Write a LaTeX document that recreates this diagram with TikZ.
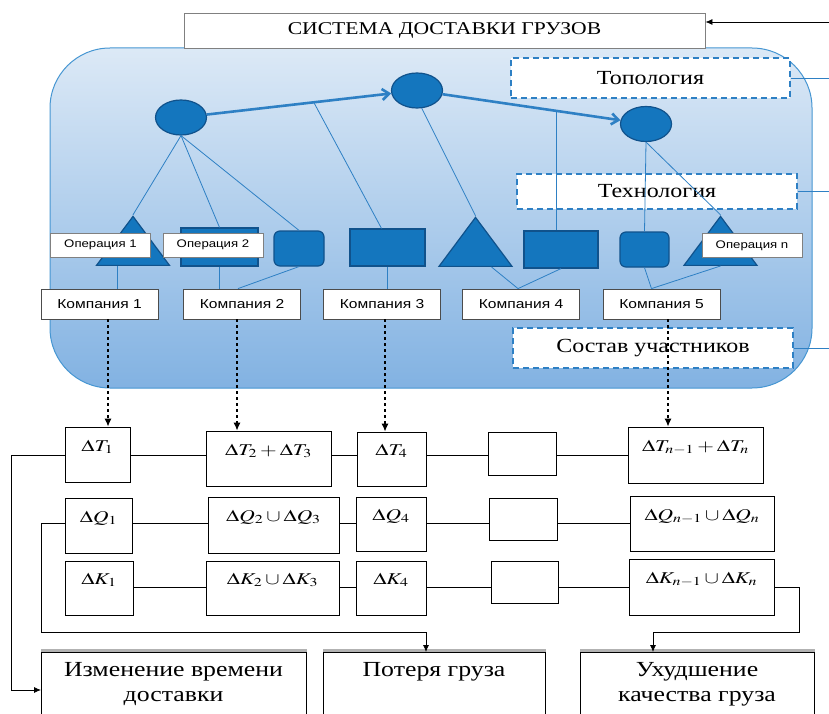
\documentclass[tikz,border=0pt]{standalone}
\usepackage{mathptmx}
\usepackage[no-math]{fontspec}
\setmainfont{Liberation Serif}[FakeStretch=1.2]
\newfontfamily\opfont{Liberation Sans}[FakeStretch=1.2]
\usepackage{graphicx}
\usetikzlibrary{shapes.geometric,arrows.meta}
\definecolor{figblue}{RGB}{20,118,190}
\definecolor{figedge}{RGB}{16,82,140}
\definecolor{lineblue}{RGB}{46,128,196}
\definecolor{paneltop}{RGB}{220,233,246}
\definecolor{panelbot}{RGB}{130,178,226}
\definecolor{paneledge}{RGB}{70,150,210}
\newcommand{\wmath}[1]{\scalebox{1.3}[1]{$#1$}}
\begin{document}
\begin{tikzpicture}[x=1pt, y=-1pt,
  panel/.style={draw=paneledge, line width=1, top color=paneltop, bottom color=panelbot, rounded corners=60, minimum width=762, minimum height=340, inner sep=0},
  titlebox/.style={draw=gray, fill=white, line width=0.8, minimum width=521, minimum height=35, inner sep=0, font=\fontsize{18}{20}\selectfont},
  tagbox/.style={draw=lineblue, dash pattern=on 6pt off 4pt, line width=2, fill=white, inner sep=0, font=\fontsize{20}{22}\selectfont},
  fig/.style={fill=figblue, draw=figedge, line width=1.2, inner sep=0},
  circ/.style={fig, ellipse, minimum width=51, minimum height=35},
  rect/.style={fig, rectangle},
  rsq/.style={fig, rectangle, rounded corners=6, minimum width=50, minimum height=35},
  tri/.style={fig, isosceles triangle, isosceles triangle stretches, shape border rotate=90, minimum width=73, minimum height=49, anchor=south},
  bline/.style={lineblue, line width=0.8},
  flow/.style={lineblue, line width=2.6, -{Straight Barb[length=7pt,width=11pt]}},
  op/.style={draw=gray, fill=white, line width=0.8, minimum width=100, minimum height=24, inner sep=0, font=\opfont\fontsize{11}{12}\selectfont},
  comp/.style={draw=black!70, fill=white, line width=0.8, minimum width=117, minimum height=30, inner sep=0, font=\opfont\fontsize{13}{14}\selectfont},
  sarrow/.style={dashed, line width=1.2, -{Latex[length=8pt,width=7pt]}},
  dm/.style={draw, fill=white, line width=0.8, inner sep=0, text height=10pt, text depth=17pt, font=\fontsize{16.5}{18}\selectfont},
  gline/.style={line width=0.8},
  karrow/.style={line width=0.8, -{Latex[length=7pt,width=6pt]}},
  outbox/.style={draw, line width=0.8, minimum height=90, inner sep=0, anchor=north west},
  shadowline/.style={gray!60, line width=3},
  outtext/.style={align=center, font=\fontsize{21.5}{25}\selectfont}]
\clip (0,0) rectangle (829,714);
\node[panel] (P) at (431,218) {};
\node[titlebox] (S) at (444.5,30.5) {СИСТЕМА ДОСТАВКИ ГРУЗОВ};
\coordinate (E_0) at (829,22);
\draw[karrow] (E_0) -- (E_0 -| S.east);
\node[tagbox, minimum width=279, minimum height=40] (G_1) at (650.5,78) {Топология};
\node[tagbox, minimum width=280, minimum height=35] (G_2) at (657,191.5) {Технология};
\node[tagbox, minimum width=280, minimum height=40] (G_3) at (653,348) {Состав участников};
\draw[bline] (G_1.east) -- (G_1.east -| E_0);
\draw[bline] (G_2.east) -- (G_2.east -| E_0);
\draw[bline] (G_3.east) -- (G_3.east -| E_0);
\node[circ] (C_1) at (181,117.5) {};
\node[circ] (C_2) at (417,90.5) {};
\node[circ] (C_3) at (646,124) {};
\draw[flow] (C_1) -- (C_2) coordinate[pos=0.58] (A_1);
\draw[flow] (C_2) -- (C_3) coordinate[pos=0.64] (A_2);
\node[tri] (T_1) at (133,266) {};
\node[rect, minimum width=77, minimum height=38] (R_2) at (219.5,247) {};
\node[rsq] (Q_3) at (299,248.5) {};
\node[rect, minimum width=75, minimum height=37] (R_4) at (387.5,247.5) {};
\node[tri] (T_5) at (475.5,267) {};
\node[rect, minimum width=74, minimum height=37] (R_6) at (561,249.5) {};
\node[rsq, minimum width=49] (Q_7) at (644.5,249.5) {};
\node[tri] (T_8) at (720.5,266) {};
\draw[bline] (C_1.south) -- (T_1.apex);
\draw[bline] (C_1.south) -- (R_2.north);
\draw[bline] (C_1.south) -- (Q_3.north);
\draw[bline] (A_1) -- ([xshift=-6]R_4.north);
\draw[bline] (C_2.-75) -- (T_5.apex);
\draw[bline] (A_2) -- (A_2 |- R_6.north);
\draw[bline] (C_3.south) -- (Q_7.north);
\draw[bline] (C_3.south) -- (T_8.apex);
\node[op] (O_1) at (100.5,245) {Операция 1};
\node[op] (O_2) at (213,245) {Операция 2};
\node[op] (O_n) at (752,245.5) {Операция n};
\node[comp] (K_1) at (99.5,304) {Компания 1};
\node[comp] (K_2) at (242,304) {Компания 2};
\node[comp] (K_3) at (382,304) {Компания 3};
\node[comp] (K_4) at (521,304) {Компания 4};
\node[comp] (K_5) at (661.5,304) {Компания 5};
\draw[bline] ([xshift=17.5]K_1.north) -- ++(0,-23);
\draw[bline] (R_2.south) -- (R_2.south |- K_2.north);
\draw[bline] (Q_3.south) -- ([xshift=-4]K_2.north);
\draw[bline] (R_4.south) -- (R_4.south |- K_3.north);
\draw[bline] ([xshift=16]T_5.south) -- ([xshift=-3]K_4.north);
\draw[bline] (R_6.south) -- ([xshift=-3]K_4.north);
\draw[bline] (Q_7.south) -- ([xshift=-10]K_5.north);
\draw[bline] (T_8.south) -- ([xshift=-10]K_5.north);
\node[dm, minimum width=65, minimum height=55] (DT_1) at (97.5,454.5) {\wmath{\Delta T_1}};
\node[dm, minimum width=125, minimum height=55] (DT_2) at (268.5,458.5) {\wmath{\Delta T_2+\Delta T_3}};
\node[dm, minimum width=69, minimum height=54] (DT_3) at (391.5,459) {\wmath{\Delta T_4}};
\node[dm, minimum width=68, minimum height=43] (DT_4) at (522,453.5) {};
\node[dm, minimum width=135, minimum height=56] (DT_5) at (695.5,455) {\wmath{\Delta T_{n-1}+\Delta T_n}};
\node[dm, minimum width=67, minimum height=55] (DQ_1) at (98.5,525.5) {\wmath{\Delta Q_1}};
\node[dm, minimum width=131, minimum height=56] (DQ_2) at (273.5,525) {\wmath{\Delta Q_2\cup\Delta Q_3}};
\node[dm, minimum width=70, minimum height=54] (DQ_3) at (391,524) {\wmath{\Delta Q_4}};
\node[dm, minimum width=68, minimum height=42] (DQ_4) at (523,519) {};
\node[dm, minimum width=144, minimum height=55] (DQ_5) at (702,523.5) {\wmath{\Delta Q_{n-1}\cup\Delta Q_n}};
\node[dm, minimum width=68, minimum height=54] (DK_1) at (99,588) {\wmath{\Delta K_1}};
\node[dm, minimum width=133, minimum height=54] (DK_2) at (272.5,588) {\wmath{\Delta K_2\cup\Delta K_3}};
\node[dm, minimum width=70, minimum height=54] (DK_3) at (391,588) {\wmath{\Delta K_4}};
\node[dm, minimum width=67, minimum height=42] (DK_4) at (524.5,582) {};
\node[dm, minimum width=145, minimum height=56] (DK_5) at (701.5,587) {\wmath{\Delta K_{n-1}\cup\Delta K_n}};
\path ([xshift=8.5]K_1.south) coordinate (D_1);
\path ([xshift=-5]K_2.south) coordinate (D_2);
\path ([xshift=3]K_3.south) coordinate (D_3);
\path ([xshift=6.5]K_5.south) coordinate (D_5);
\draw[sarrow] (D_1) -- (D_1 |- DT_1.north);
\draw[sarrow] (D_2) -- (D_2 |- DT_2.north);
\draw[sarrow] (D_3) -- (D_3 |- DT_3.north);
\draw[sarrow] (D_5) -- (D_5 |- DT_5.north);
\coordinate (RT) at (0,455);
\coordinate (RQ) at (0,523);
\coordinate (RK) at (0,587);
\draw[gline] (DT_1.east |- RT) -- (DT_2.west |- RT);
\draw[gline] (DT_2.east |- RT) -- (DT_3.west |- RT);
\draw[gline] (DT_3.east |- RT) -- (DT_4.west |- RT);
\draw[gline] (DT_4.east |- RT) -- (DT_5.west |- RT);
\draw[gline] (DQ_1.east |- RQ) -- (DQ_2.west |- RQ);
\draw[gline] (DQ_2.east |- RQ) -- (DQ_3.west |- RQ);
\draw[gline] (DQ_3.east |- RQ) -- (DQ_4.west |- RQ);
\draw[gline] (DQ_4.east |- RQ) -- (DQ_5.west |- RQ);
\draw[gline] (DK_1.east |- RK) -- (DK_2.west |- RK);
\draw[gline] (DK_2.east |- RK) -- (DK_3.west |- RK);
\draw[gline] (DK_3.east |- RK) -- (DK_4.west |- RK);
\draw[gline] (DK_4.east |- RK) -- (DK_5.west |- RK);
\node[outbox, minimum width=265] (B_1) at (41,652) {};
\node[outbox, minimum width=222] (B_2) at (323,652) {};
\node[outbox, minimum width=234] (B_3) at (580,652) {};
\draw[shadowline] ([yshift=1.5]B_1.north west) -- ([yshift=1.5]B_1.north east);
\draw[shadowline] ([yshift=1.5]B_2.north west) -- ([yshift=1.5]B_2.north east);
\draw[shadowline] ([yshift=1.5]B_3.north west) -- ([yshift=1.5]B_3.north east);
\node[outtext] (N_1) at (173.5,684.5) {Изменение времени\\доставки};
\node[outtext] (N_2) at (434,672) {Потеря груза};
\node[outtext] (N_3) at (697,684.5) {Ухудшение\\качества груза};
\coordinate (L_1) at (11,690);
\coordinate (L_2) at (41,632);
\coordinate (L_3) at (426,632);
\coordinate (L_4) at (799,632);
\coordinate (L_5) at (653,632);
\draw[karrow] (DT_1.west |- RT) -| (L_1) -- (L_1 -| B_1.west);
\draw[karrow] (DQ_1.west |- RQ) -| (L_2) -| (L_3 |- B_2.north);
\draw[karrow] (DK_5.east |- RK) -| (L_4) -| (L_5 |- B_3.north);
\end{tikzpicture}
\end{document}
